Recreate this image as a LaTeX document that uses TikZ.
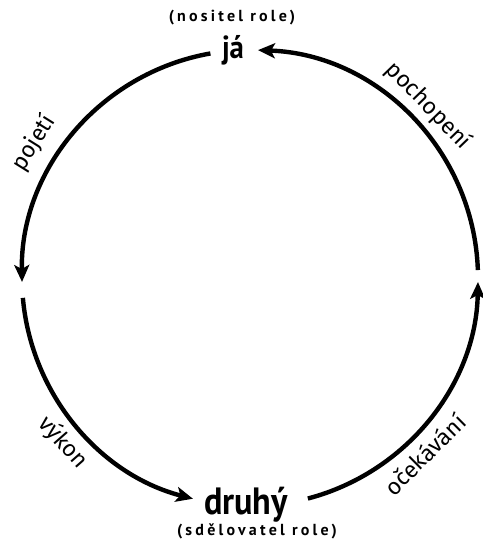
\documentclass[tikz,border=0pt]{standalone}
\usepackage{fontspec}
\setmainfont{PT Sans}
\newfontfamily\arclabelfont{Fira Sans}
\newfontfamily\notefont[LetterSpace=20]{PT Sans Bold}
\usetikzlibrary{arrows.meta,calc}

\tikzset{
  cyc/.style={line width=4.4pt, -{Stealth[length=17pt,width=15pt,inset=4pt]}},
  arclabel/.style={font=\arclabelfont\fontsize{23}{26}\selectfont, inner sep=0pt},
  role/.style={font=\bfseries\fontsize{#1}{#1}\selectfont, xscale=0.9, inner sep=0pt},
  rolenote/.style={font=\notefont\fontsize{16}{18}\selectfont, inner sep=0pt}
}

\begin{document}
\begin{tikzpicture}[x=1pt,y=1pt]
    \useasboundingbox (0,0) rectangle (482,543);
    \def\R{228}
    \coordinate (c) at (250,265);

    % ===== role nodes =====
    \node[role=32] (ja) at (233,493) {já};
    \node[rolenote] (janote) at (232,525) {(nositel role)};
    \node[role=38] (druhy) at (246,38) {druhý};
    \node[rolenote] (druhynote) at (257,12) {(sdělovatel role)};

    % ===== points on the circle =====
    \coordinate (ja-w) at ($(c)+(100:\R)$);
    \coordinate (left-s) at ($(c)+(185:\R)$);
    \coordinate (druhy-e) at ($(c)+(284.7:\R)$);
    \coordinate (right-n) at ($(c)+(2:\R)$);

    % ===== the cycle =====
    \draw[cyc] (ja-w) arc[start angle=100, end angle=181, radius=\R];
    \draw[cyc] (left-s) arc[start angle=185, end angle=255.5, radius=\R];
    \draw[cyc] (druhy-e) arc[start angle=284.7, end angle=359, radius=\R];
    \draw[cyc] (right-n) arc[start angle=2, end angle=88, radius=\R];

    % ===== labels along the arcs =====
    \node[arclabel, rotate=58] (pojeti) at ($(c)+(148:255)$) {pojetí};
    \node[arclabel, rotate=-48.6] (vykon) at ($(c)+(221.4:249)$) {výkon};
    \node[arclabel, rotate=44.7] (ocekavani) at ($(c)+(-45.3:248)$) {očekávání};
    \node[arclabel, rotate=-46] (pochopeni) at ($(c)+(44:248)$) {pochopení};
\end{tikzpicture}
\end{document}
